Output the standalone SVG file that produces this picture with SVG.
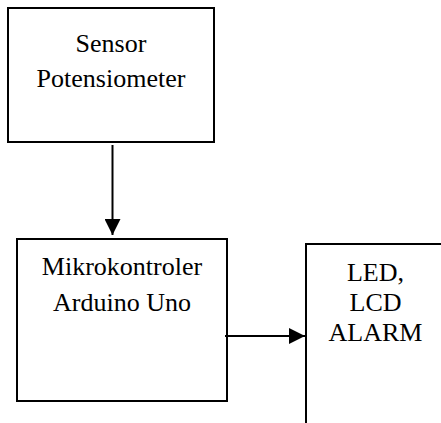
<svg xmlns="http://www.w3.org/2000/svg" width="441" height="423" viewBox="0 0 441 423">
<style>
.box{fill:#fff;stroke:#000;stroke-width:2}
.lbl{font-family:"Liberation Serif","Times New Roman",serif;font-size:26px;fill:#000;text-anchor:middle}
.conn{stroke:#000;stroke-width:2;fill:none}
</style>
<defs>
<marker id="ah" markerUnits="userSpaceOnUse" markerWidth="16" markerHeight="16" viewBox="0 0 16 16" refX="16" refY="8" orient="auto">
<path d="M0,0 L16,8 L0,16 Z" fill="#000"/>
</marker>
</defs>
<g id="sensor">
<rect class="box" x="8" y="8" width="206" height="134"/>
<text class="lbl" x="111" y="52">Sensor</text>
<text class="lbl" x="111" y="87">Potensiometer</text>
</g>
<g id="mikrokontroler">
<rect class="box" x="17" y="239" width="210" height="162"/>
<text class="lbl" x="122" y="275">Mikrokontroler</text>
<text class="lbl" x="122" y="311">Arduino Uno</text>
</g>
<g id="output">
<rect class="box" x="306" y="244" width="200" height="220"/>
<text class="lbl" x="375.5" y="281">LED,</text>
<text class="lbl" x="375.5" y="311">LCD</text>
<text class="lbl" x="375.5" y="341">ALARM</text>
</g>
<g id="connectors">
<line class="conn" x1="112.5" y1="145" x2="112.5" y2="235" marker-end="url(#ah)"/>
<line class="conn" x1="225" y1="336" x2="305" y2="336" marker-end="url(#ah)"/>
</g>
</svg>
